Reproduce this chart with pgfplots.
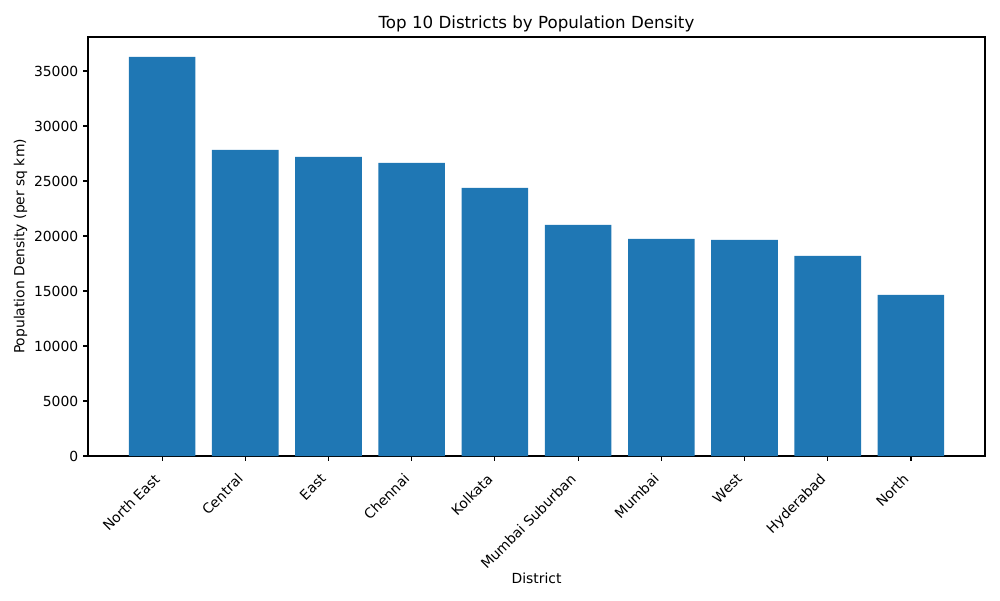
\documentclass[border=0pt]{standalone}
\usepackage{pgfplots}
\pgfplotsset{compat=1.18}
\usepackage{fontspec}
\setmainfont{DejaVu Sans}
\definecolor{mplblue}{HTML}{1F77B4}
\begin{document}
\begin{tikzpicture}
\path[use as bounding box] (-63.36pt,-103.68pt) rectangle (656.64pt,328.32pt);
\begin{axis}[
  scale only axis,
  width=645.84pt, height=301.68pt,
  xmin=-0.89, xmax=9.89,
  ymin=0, ymax=38087,
  xtick={0,...,9},
  xticklabels={North East, Central, East, Chennai, Kolkata, Mumbai Suburban, Mumbai, West, Hyderabad, North},
  x tick label style={rotate=45, anchor=north east, xshift=-7pt, yshift=2pt, font=\fontsize{10}{12}\selectfont},
  ytick={0,5000,10000,15000,20000,25000,30000,35000},
  y tick label style={font=\fontsize{10}{12}\selectfont},
  /pgf/number format/assume math mode=true,
  scaled y ticks=false,
  yticklabel style={/pgf/number format/.cd, fixed, 1000 sep={}},
  tick align=outside,
  major tick length=3.5pt,
  tick style={black, line width=0.8pt},
  axis line style={line width=0.8pt},
  xtick pos=bottom, ytick pos=left,
  xlabel={District},
  ylabel={Population Density (per sq km)},
  xlabel shift=-6pt,
  ylabel shift=-2pt,
  label style={font=\fontsize{10}{12}\selectfont},
  title={Top 10 Districts by Population Density},
  title style={font=\fontsize{12}{14}\selectfont, yshift=-6pt},
]
\addplot[ybar, bar width=0.8, fill=mplblue, draw=none] coordinates {
  (0,36273) (1,27818) (2,27182) (3,26636) (4,24364)
  (5,21000) (6,19727) (7,19636) (8,18182) (9,14636)
};
\end{axis}
\end{tikzpicture}
\end{document}
